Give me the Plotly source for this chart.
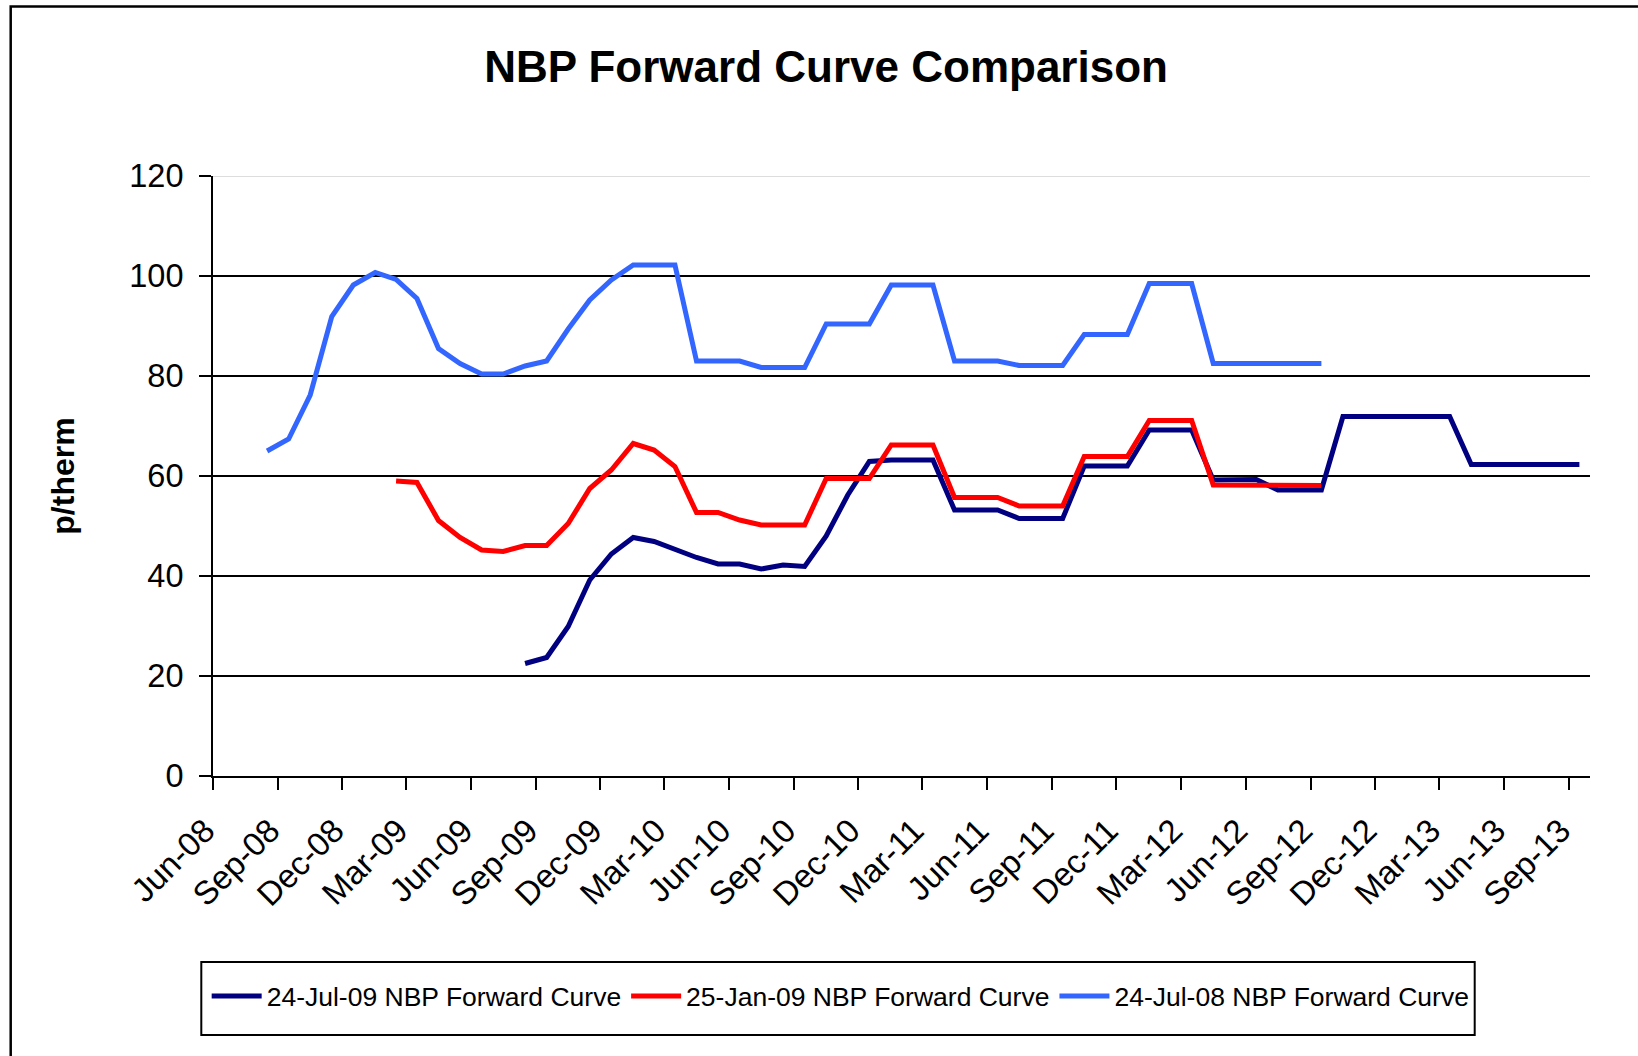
import plotly.graph_objects as go

# Delivery months (first of month), Aug-08 .. Sep-13
months = (
    ["2008-08-01", "2008-09-01", "2008-10-01", "2008-11-01", "2008-12-01"]
    + [f"2009-{m:02d}-01" for m in range(1, 13)]
    + [f"2010-{m:02d}-01" for m in range(1, 13)]
    + [f"2011-{m:02d}-01" for m in range(1, 13)]
    + [f"2012-{m:02d}-01" for m in range(1, 13)]
    + [f"2013-{m:02d}-01" for m in range(1, 10)]
)

# 24-Jul-08 curve: Aug-08 .. Sep-12
curve_jul08 = [65.0, 67.4, 76.2, 91.9, 98.2, 100.7, 99.3, 95.5, 85.5, 82.5,
               80.4, 80.4, 82.0, 83.0, 89.4, 95.2, 99.2, 102.2, 102.2, 102.2,
               83.0, 83.0, 83.0, 81.7, 81.7, 81.7, 90.4, 90.4, 90.4, 98.2,
               98.2, 98.2, 83.0, 83.0, 83.0, 82.1, 82.1, 82.1, 88.3, 88.3,
               88.3, 98.5, 98.5, 98.5, 82.5, 82.5, 82.5, 82.5, 82.5, 82.5]
start_jul08 = 0

# 25-Jan-09 curve: Feb-09 .. Sep-12
curve_jan09 = [59.0, 58.7, 51.1, 47.7, 45.2, 44.9, 46.1, 46.1, 50.5, 57.5,
               61.2, 66.5, 65.2, 61.9, 52.7, 52.7, 51.2, 50.2, 50.2, 50.2,
               59.5, 59.5, 59.5, 66.2, 66.2, 66.2, 55.7, 55.7, 55.7, 54.0,
               54.0, 54.0, 63.9, 63.9, 63.9, 71.1, 71.1, 71.1, 58.2, 58.2,
               58.1, 58.1, 58.1, 58.1]
start_jan09 = 6

# 24-Jul-09 curve: Aug-09 .. Sep-13
curve_jul09 = [22.5, 23.7, 29.9, 39.2, 44.4, 47.7, 46.9, 45.2, 43.7, 42.4,
               42.4, 41.4, 42.2, 41.9, 48.0, 56.2, 62.9, 63.2, 63.2, 63.2,
               53.2, 53.2, 53.2, 51.5, 51.5, 51.5, 62.0, 62.0, 62.0, 69.2,
               69.2, 69.2, 59.2, 59.3, 59.3, 57.2, 57.2, 57.2, 71.9, 71.9,
               71.9, 71.9, 71.9, 71.9, 62.3, 62.3, 62.3, 62.3, 62.3, 62.3]
start_jul09 = 12

names = ["24-Jul-09 NBP Forward Curve", "25-Jan-09 NBP Forward Curve",
         "24-Jul-08 NBP Forward Curve"]
y_ticks = [0, 20, 40, 60, 80, 100, 120]

FONT = "Liberation Sans, Arial, sans-serif"

fig = go.Figure()

def add(vals, start, name, color, rank):
    x = months[start:start + len(vals)]
    fig.add_trace(go.Scatter(
        x=x, y=vals, name=name, mode="lines",
        xperiod="M1", xperiodalignment="middle",
        line=dict(color=color, width=5), legendrank=rank))

add(curve_jul08, start_jul08, names[2], "#3366FF", 3)
add(curve_jul09, start_jul09, names[0], "#000080", 1)
add(curve_jan09, start_jan09, names[1], "#FF0000", 2)

fig.update_layout(
    width=1638, height=1056,
    margin=dict(l=213, r=48, t=176, b=280),
    paper_bgcolor="white", plot_bgcolor="white",
    font=dict(family=FONT, color="black", size=31),
    title=dict(text="NBP Forward Curve Comparison", x=0.5043, xref="container",
               xanchor="center", y=1 - 67 / 1056, yref="container", yanchor="middle",
               font=dict(family=FONT, size=44, weight="bold", color="black")),
    showlegend=True,
    legend=dict(orientation="h", x=-0.0046, xanchor="left", y=-0.327, yanchor="top",
                borderwidth=0, bgcolor="rgba(0,0,0,0)",
                font=dict(family=FONT, size=26.5, color="black"),
                itemwidth=50, traceorder="normal"),
)

fig.update_xaxes(
    type="date", range=["2008-06-01", "2013-10-01"],
    tick0="2008-06-01", dtick="M3", tickformat="%b-%y", tickangle=-45,
    ticks="outside", ticklen=12, tickwidth=2, tickcolor="black",
    showline=True, linecolor="black", linewidth=2, showgrid=False,
    ticklabelstandoff=8, ticklabelshift=-8,
    tickfont=dict(family=FONT, size=33, color="black"),
)
fig.update_yaxes(
    range=[0, 120], tickvals=y_ticks, ticks="outside", ticklen=12, tickwidth=2,
    tickcolor="black", showline=True, linecolor="black", linewidth=2,
    showgrid=True, gridcolor="black", gridwidth=2, zeroline=False,
    ticklabelstandoff=9,
    tickfont=dict(family=FONT, size=32.5, color="black"),
)

# light top gridline at 120 as in the original
fig.add_shape(type="line", xref="paper", yref="y", x0=0, x1=1, y0=120, y1=120,
              line=dict(color="#dddddd", width=2), layer="above")

# outer chart border (extends past the right and bottom edges)
fig.add_shape(type="rect", xref="paper", yref="paper",
              x0=(11 - 213.3) / 1377, x1=1.2, y0=-0.7, y1=(776 - 6.5) / 600,
              line=dict(color="black", width=2.5), layer="below")

# legend frame
fig.add_shape(type="rect", xref="paper", yref="paper",
              x0=(201.6 - 213.3) / 1377, x1=(1475 - 213.3) / 1377,
              y0=(776 - 1035) / 600, y1=(776 - 962) / 600,
              line=dict(color="black", width=2), fillcolor="white", layer="below")

fig.add_annotation(text="p/therm", xref="paper", yref="paper",
                   x=(63 - 213.3) / 1377, y=0.5, textangle=-90, showarrow=False,
                   xanchor="center", yanchor="middle",
                   font=dict(family=FONT, size=32, weight="bold", color="black"))

fig.write_html("out.html", config={"displayModeBar": False},
               post_script="document.body.style.margin='0';")
